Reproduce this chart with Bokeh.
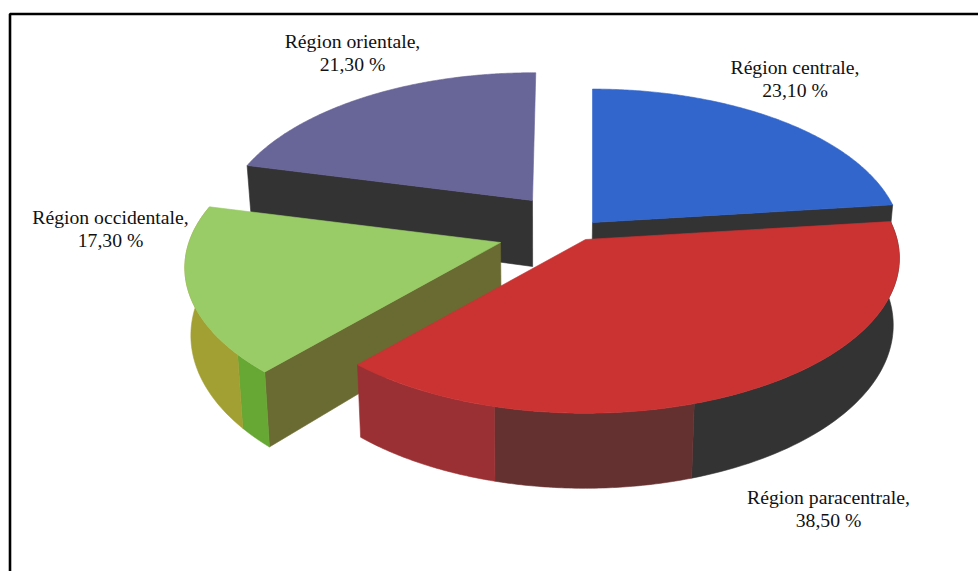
import numpy as np
from bokeh.core.properties import value
from bokeh.embed import file_html
from bokeh.models import Range1d
from bokeh.plotting import figure
from bokeh.resources import INLINE

# Regional shares, clockwise from twelve o'clock
regions = ["Région centrale", "Région paracentrale", "Région occidentale", "Région orientale"]
shares = [23.10, 38.50, 17.30, 21.30]
top_colors = ["#3266cc", "#cb3232", "#99cc66", "#686598"]

WIDTH, HEIGHT = 978, 571

# Projection of the tilted pie: horizontal and depth radii, thickness
RX, RY, THICK = 310.0, 152.0, 66.0
VANISH_X, BASE_SHRINK = 540.0, 0.983

# Each exploded slice has its own apex on the page, distance scale and perspective
apexes = [(592, 222), (585, 239), (500, 242), (532, 200)]
scales = [0.99, 1.005, 1.005, 0.99]
perspectives = [0.129, 0.12, 0.16, 0.18]

# Shading of the outer wall, as (from, to, colour) in degrees for each slice
wall_bands = [
    [],
    [(83.16, 162, "#333333"), (162, 195, "#653030"), (195, 221.76, "#9a3033")],
    [(221.76, 229, "#66a833"), (229, 284, "#a3a033")],
    [],
]
# Colour of the visible flat cut: side 0 is the start edge, side 1 the end edge
cut_faces = [(1, "#333333"), None, (0, "#6a6a33"), (0, "#333333")]

p = figure(width=WIDTH, height=HEIGHT, output_backend="svg", toolbar_location=None,
           x_range=Range1d(0, WIDTH), y_range=Range1d(HEIGHT, 0),
           min_border=0, outline_line_color=None, background_fill_color="white",
           border_fill_color="white")
p.axis.visible = False
p.grid.visible = False


def project(i, theta_deg, base=False):
    apex, scale, persp = apexes[i], scales[i], perspectives[i]
    t = np.radians(np.asarray(theta_deg, dtype=float))
    depth = np.cos(t) * scale
    s = 1.0 / (1.0 + persp * depth)
    x = apex[0] + s * np.sin(t) * scale * RX
    y = apex[1] - s * depth * RY
    if base:
        x = VANISH_X + (x - VANISH_X) * BASE_SHRINK
        y = y + THICK * s
    return x, y


def fill(xs, ys, color):
    p.patch(list(xs), list(ys), fill_color=color, line_color=color, line_width=0.6)


edges = np.cumsum([0.0] + [v * 3.6 for v in shares])
# Far slices first so that the nearer ones cover their walls
for i in [3, 0, 2, 1]:
    apex = apexes[i]
    start, end = edges[i], edges[i + 1]
    if cut_faces[i] is not None:
        side, color = cut_faces[i]
        angle = start if side == 0 else end
        ox, oy = project(i, angle)
        bx, by = project(i, angle, base=True)
        ax0 = VANISH_X + (apex[0] - VANISH_X) * BASE_SHRINK
        fill([apex[0], float(ox), float(bx), ax0],
             [apex[1], float(oy), float(by), apex[1] + THICK], color)
    for a0, a1, color in wall_bands[i]:
        th = np.linspace(a0, a1, 60)
        tx, ty = project(i, th)
        bx, by = project(i, th, base=True)
        fill(np.r_[tx, bx[::-1]], np.r_[ty, by[::-1]], color)
    th = np.linspace(start, end, 160)
    tx, ty = project(i, th)
    fill(np.r_[apex[0], tx], np.r_[apex[1], ty], top_colors[i])

# Labels: region name above its percentage
label_x = [794.5, 828, 110, 352]
label_y = [66, 496, 216, 40]
LINE_GAP = 23.5
names = [f"{r}," for r in regions]
pcts = [f"{v:.2f}".replace(".", ",") + " %" for v in shares]
for texts, dy in ((names, 0), (pcts, LINE_GAP)):
    p.text(x=label_x, y=[y + dy for y in label_y], text=texts,
           text_font=value("Liberation Serif"), text_font_size="19.7px",
           text_color="#111111", text_align="center", text_baseline="middle")

# Frame along the top and left edges of the page
p.line([9.5, 9.5, WIDTH], [HEIGHT, 13.5, 13.5], line_color="black", line_width=2.6)

open("out.html", "w").write(file_html(p, INLINE))
